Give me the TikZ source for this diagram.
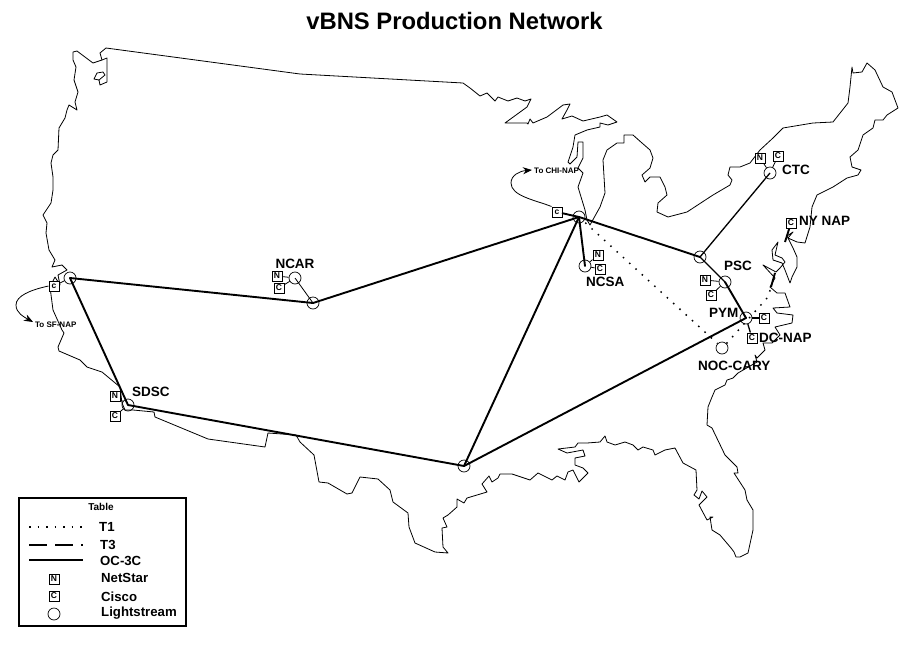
\documentclass[tikz,border=0pt]{standalone}
\usepackage{fontspec}
\setmainfont{Liberation Sans}
\usetikzlibrary{arrows.meta}
\tikzset{
 coast/.style={line width=0.8pt,line join=round},
 oc/.style={line width=1.9pt,line cap=round},
 mid/.style={line width=1.3pt},
 thin link/.style={line width=0.8pt},
 tone/.style={line width=1.5pt,dash pattern=on 1.5pt off 7pt},
 tthree/.style={line width=1.9pt},
 ls/.style={circle,draw,line width=0.7pt,minimum size=12pt,inner sep=0pt},
 box/.style={rectangle,draw,line width=1pt,minimum size=10pt,inner sep=0pt,font=\fontsize{8.5}{8.5}\bfseries\selectfont,fill=white},
 site/.style={font=\fontsize{13.5}{14}\bfseries\selectfont,inner sep=0pt},
 tiny/.style={font=\fontsize{8}{8}\bfseries\selectfont,inner sep=0pt},
 legend/.style={font=\fontsize{13.2}{14}\bfseries\selectfont,inner sep=0pt,anchor=west},
}
\begin{document}
\begin{tikzpicture}[x=1pt,y=-1pt]
\useasboundingbox (0,0) rectangle (913,648);
\fill[white] (0,0) rectangle (913,648);
\node[inner sep=0pt,font=\fontsize{23.8}{26}\bfseries\selectfont] (title) at (454.5,21) {vBNS Production Network};
% outline
\draw[coast] (106,48) -- (300,74) -- (463,83) -- (470,88) -- (480,96) -- (487,93) -- (495,101) -- (498,97) -- (508,101) -- (517,98) -- (525,101) -- (531,99) -- (527,107) -- (505,123) -- (527,123) -- (528,124) -- (530,119) -- (533,123) -- (547,117) -- (563,105) -- (570,104) -- (567,110) -- (562,119) -- (572,116) -- (583,121) -- (600,117) -- (607,115) -- (617,122) -- (608,125) -- (600,123) -- (600,127) -- (587,130) -- (575,135) -- (573,147) -- (568,162) -- (570,164) -- (577,157) -- (578,142) -- (583,142) -- (583,158) -- (578,168) -- (583,173) -- (578,187) -- (585,210) -- (587,220) -- (590,225) -- (600,207) -- (605,193) -- (603,160) -- (607,150) -- (617,143) -- (624,143) -- (624,135) -- (633,135) -- (642,143) -- (650,150) -- (653,158) -- (650,168) -- (642,175) -- (645,182) -- (650,177) -- (660,177) -- (665,187) -- (667,195) -- (658,203) -- (657,212) -- (668,217) -- (687,212) -- (713,195) -- (730,185) -- (732,180) -- (728,175) -- (730,167) -- (740,167) -- (750,163) -- (760,150) -- (773,138) -- (783,128) -- (813,123) -- (833,122) -- (848,103) -- (850,87) -- (852,67) -- (853,73) -- (862,72) -- (867,63) -- (875,70) -- (883,87) -- (892,92) -- (898,108) -- (887,115) -- (883,120) -- (875,120) -- (873,128) -- (863,135) -- (858,150) -- (850,157) -- (852,167) -- (861,170) -- (858,175) -- (847,178) -- (833,187) -- (817,195) -- (812,207) -- (810,227) -- (805,243) -- (797,242) -- (788,238) -- (793,232) -- (787,236) -- (793,248) -- (797,257) -- (797,267) -- (792,277) -- (790,283) -- (785,270) -- (782,263) -- (773,260) -- (772,250) -- (778,242) -- (775,255) -- (782,258) -- (785,262) -- (780,268) -- (776,272) -- (763,265) -- (775,278) -- (770,287) -- (777,293) -- (785,293) -- (790,307) -- (773,308) -- (777,313) -- (793,315) -- (792,323) -- (775,327) -- (780,335) -- (772,343) -- (763,343) -- (765,350) -- (757,358) -- (755,355) -- (757,362) -- (738,373) -- (733,378) -- (727,380) -- (725,385) -- (715,390) -- (712,397) -- (708,407) -- (707,425) -- (712,428) -- (725,455) -- (737,467) -- (738,473) -- (734,473) -- (745,490) -- (747,500) -- (753,510) -- (753,530) -- (748,553) -- (740,557) -- (736,557) -- (734,552) -- (731,548) -- (720,535) -- (712,530) -- (710,517) -- (713,517) -- (707,520) -- (699,505) -- (707,497) -- (702,491) -- (699,499) -- (694,495) -- (697,490) -- (696,470) -- (683,463) -- (675,448) -- (665,450) -- (655,455) -- (653,450) -- (643,447) -- (638,450) -- (633,445) -- (625,442) -- (615,445) -- (607,442) -- (605,436) -- (600,442) -- (587,443) -- (578,443) -- (575,447) -- (558,449) -- (567,453) -- (583,450) -- (585,456) -- (575,458) -- (575,465) -- (583,468) -- (588,473) -- (579,482) -- (573,470) -- (568,472) -- (565,480) -- (557,476) -- (552,480) -- (538,473) -- (530,480) -- (512,474) -- (500,474) -- (498,478) -- (492,482) -- (489,476) -- (482,484) -- (487,492) -- (467,498) -- (464,503) -- (457,499) -- (457,507) -- (448,515) -- (443,518) -- (447,527) -- (442,528) -- (443,547) -- (448,553) -- (435,552) -- (415,543) -- (409,527) -- (408,513) -- (393,502) -- (390,490) -- (378,479) -- (360,477) -- (352,493) -- (347,494) -- (328,483) -- (319,482) -- (314,455) -- (300,442) -- (296,435) -- (268,433) -- (265,447) -- (208,439) -- (155,417) -- (154,412) -- (133,410) -- (125,410) -- (122,403) -- (120,387) -- (102,372) -- (87,367) -- (80,360) -- (59,351) -- (58,347) -- (64,333) -- (62,330) -- (53,310) -- (50,287) -- (55,277) -- (60,285) -- (58,275) -- (67,270) -- (62,265) -- (52,267) -- (55,260) -- (49,250) -- (46,233) -- (47,223) -- (43,215) -- (51,203) -- (53,190) -- (53,177) -- (51,163) -- (53,155) -- (58,150) -- (59,128) -- (65,118) -- (67,110) -- (69,105) -- (77,110) -- (75,102) -- (78,92) -- (74,80) -- (76,67) -- (73,60) -- (73,52) -- (77,51) -- (93,63) -- (102,60) -- (100,53) -- cycle;
\draw[coast] (102,60) -- (107,58) -- (107,82) -- (100,85) -- (99,80) -- (94,79) -- (97,73) -- (103,72) -- (105,75) -- (99,80);
% sites
\node[ls] (sf) at (70,278) {};
\node[ls] (ncar) at (295,278) {};
\node[ls] (denver) at (313,303) {};
\node[ls] (sdsc) at (128,405) {};
\node[ls] (houston) at (464,466) {};
\node[ls] (chi) at (579,217) {};
\node[ls] (ncsa) at (585,266) {};
\node[ls] (junction) at (700,257) {};
\node[ls] (psc) at (725,282) {};
\node[ls] (pym) at (746,318) {};
\node[ls] (ctc) at (770,173) {};
\node[ls] (noc) at (722,348) {};
\coordinate (t3a) at (771,287);
\coordinate (t3b) at (775,273);
\coordinate (dota) at (768,297);
\coordinate (ny1) at (785,242);
% connectors
\draw[oc] (sf.center) -- (denver.center);
\draw[oc] (sf.center) -- (sdsc.center);
\draw[oc] (sdsc.center) -- (houston.center);
\draw[oc] (denver.center) -- (chi.center);
\draw[oc] (houston.center) -- (chi.center);
\draw[oc] (houston.center) -- (pym.center);
\draw[oc] (chi.center) -- (ncsa.center);
\draw[oc] (chi.center) -- (junction.center);
\draw[mid] (junction.center) -- (ctc.center);
\draw[mid] (junction.center) -- (psc.center);
\draw[oc] (psc.center) -- (pym.center);
\draw[thin link] (ncar.center) -- (denver.center);
\draw[tone] (chi.center) -- (noc.north west);
\draw[tone] (noc.north east) -- (dota) -- (t3a);
\draw[tthree] (t3a) -- (t3b);
% boxes
\node[box] (sfc) at (54,286) {c};
\node[box] (ncarn) at (277,276) {N};
\node[box] (ncarc) at (279,288) {C};
\node[box] (sdn) at (115,396) {N};
\node[box] (sdc) at (115,416) {C};
\node[box] (chic) at (557,212) {c};
\node[box] (ncsan) at (598,255) {N};
\node[box] (ncsac) at (600,269) {C};
\node[box] (pscn) at (705,280) {N};
\node[box] (pscc) at (711,295) {C};
\node[box] (ctcn) at (760,158) {N};
\node[box] (ctcc) at (778,156) {C};
\node[box] (nyc) at (791,223) {C};
\node[box] (dcc) at (764,318) {C};
\node[box] (dcd) at (752,338) {C};
\draw[oc] (chi.center) -- (chic);
\draw[thin link] (ncar) -- (ncarn);
\draw[thin link] (ncar) -- (ncarc);
\draw[thin link] (psc) -- (pscn);
\draw[thin link] (psc) -- (pscc);
\draw[thin link] (ctc) -- (ctcn);
\draw[thin link] (ctc) -- (ctcc);
\draw[thin link] (ncsa) -- (ncsan);
\draw[thin link] (ncsa) -- (ncsac);
\draw[thin link] (sdsc) -- (sdn);
\draw[thin link] (sdsc) -- (sdc);
\draw[tthree] (nyc) -- (ny1);
\draw[mid] (pym) -- (dcc);
\draw[mid] (pym) -- (dcd);
\draw[thin link] (sf) -- (sfc);
% off-map arrows
\coordinate (sfarrow) at (33,322);
\coordinate (chiarrow) at (532,170);
\draw[thin link,-{Stealth[length=9pt,width=7pt]}] (sfc.west) .. controls (30,290) and (16,296) .. (16,305) .. controls (16,313) and (24,317) .. (sfarrow);
\draw[thin link,-{Stealth[length=9pt,width=7pt]}] (chic.north west) .. controls (535,200) and (511,196) .. (511,183) .. controls (511,175) and (520,171) .. (chiarrow);
% labels
\node[tiny,anchor=west] (sflabel) at (35,325) {To SF-NAP};
\node[tiny,anchor=west] (chilabel) at (534,171) {To CHI-NAP};
\node[site] (lncar) at (295,264) {NCAR};
\node[site,anchor=west] (lsdsc) at (132,392) {SDSC};
\node[site,anchor=west] (lncsa) at (586,282) {NCSA};
\node[site,anchor=west] (lctc) at (782,170) {CTC};
\node[site,anchor=west] (lny) at (799,221) {NY NAP};
\node[site,anchor=west] (lpsc) at (724,266) {PSC};
\node[site,anchor=west] (lpym) at (709,313) {PYM};
\node[site,anchor=west] (ldc) at (759,338) {DC-NAP};
\node[site,anchor=west] (lnoc) at (698,366) {NOC-CARY};
% legend
\node[draw,line width=1.5pt,minimum width=167pt,minimum height=128pt,anchor=north west,inner sep=0pt] (legendbox) at (18,497) {};
\node[inner sep=0pt,font=\fontsize{10}{10}\bfseries\selectfont] (ltitle) at (101,507) {Table};
\coordinate (l1a) at (29,527); \coordinate (l1b) at (83,527);
\coordinate (l2a) at (29,545); \coordinate (l2b) at (83,545);
\coordinate (l3a) at (29,560); \coordinate (l3b) at (83,560);
\draw[line width=1.2pt,dash pattern=on 1.5pt off 7pt] (l1a) -- (l1b);
\draw[line width=1.6pt,dash pattern=on 18pt off 8pt on 18pt off 8pt] (l2a) -- (l2b);
\draw[line width=1.6pt] (l3a) -- (l3b);
\node[legend] (lt1) at (99,527) {T1};
\node[legend] (lt3) at (100,545) {T3};
\node[legend] (loc) at (100,561) {OC-3C};
\node[legend] (lnet) at (101,578) {NetStar};
\node[legend] (lcis) at (101,597) {Cisco};
\node[legend] (lls) at (101,613) {Lightstream};
\node[box] (sn) at (54,579) {N};
\node[box] (sc) at (54,596) {C};
\node[ls] (sl) at (54,614) {};
\end{tikzpicture}
\end{document}
